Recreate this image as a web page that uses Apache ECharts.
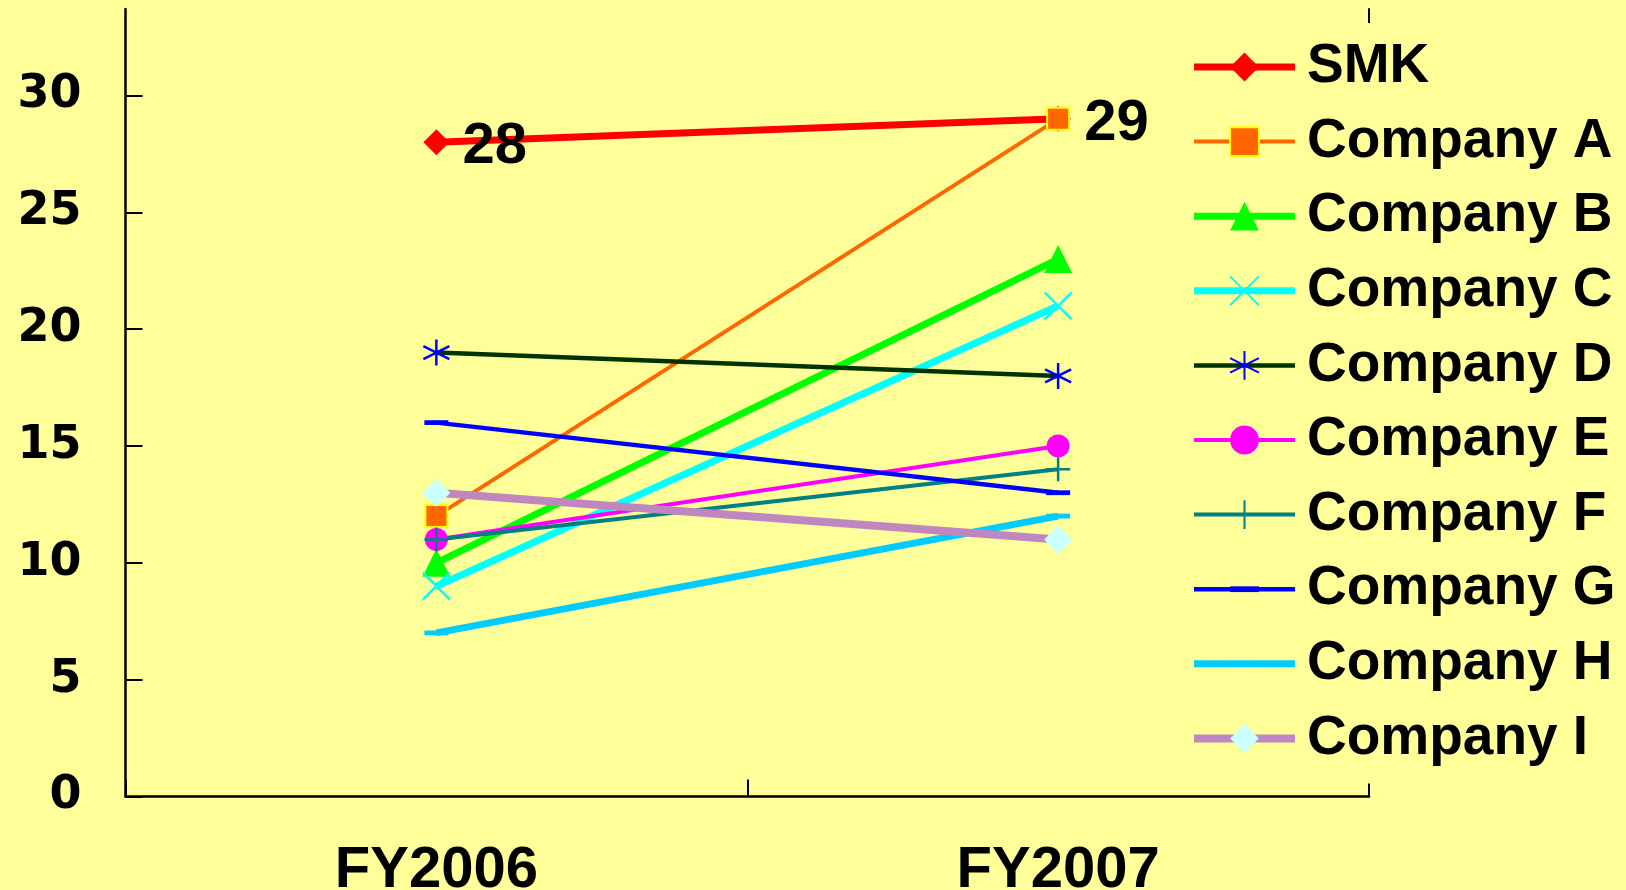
<!DOCTYPE html>
<html>
<head>
<meta charset="utf-8">
<script src="https://cdn.jsdelivr.net/npm/echarts@6/dist/echarts.min.js"></script>
<style>
html,body{margin:0;padding:0;background:#FFFF99;}
#chart{width:1626px;height:890px;}
</style>
</head>
<body>
<div id="chart"></div>
<script>
const categories = ['FY2006', 'FY2007'];
const seriesNames = ['SMK', 'Company A', 'Company B', 'Company C', 'Company D', 'Company E', 'Company F', 'Company G', 'Company H', 'Company I'];
const smk = [28, 29];
const companyA = [12, 29];
const companyB = [10, 23];
const companyC = [9, 21];
const companyD = [19, 18];
const companyE = [11, 15];
const companyF = [11, 14];
const companyG = [16, 13];
const companyH = [7, 12];
const companyI = [13, 11];
const yTickValues = [0, 5, 10, 15, 20, 25, 30];

const seriesValues = [smk, companyA, companyB, companyC, companyD, companyE, companyF, companyG, companyH, companyI];

const X_PATH = 'path://M0,0L10,10M10,0L0,10';
const STAR_PATH = 'path://M5,0L5,10M0.7,2.5L9.3,7.5M0.7,7.5L9.3,2.5';
const PLUS_PATH = 'path://M5,0L5,10M0,5L10,5';
const DASH_PATH = 'path://M0,0M0,4L10,4L10,6L0,6ZM10,10';

const styles = [
  {line: '#FF0000', lw: 7, symbol: 'diamond', size: 26, fill: '#FF0000'},
  {line: '#FF6600', lw: 4, symbol: 'rect', size: 22, fill: '#FF6600', border: '#FFFF00', bw: 2},
  {line: '#00FF00', lw: 7, symbol: 'triangle', size: 28, fill: '#00FF00'},
  {line: '#00FFFF', lw: 7, symbol: X_PATH, size: 27, fill: '#00FFFF', border: '#00FFFF', bw: 2.5},
  {line: '#003300', lw: 4.5, symbol: STAR_PATH, size: 26, fill: '#0000FF', border: '#0000FF', bw: 2.5},
  {line: '#FF00FF', lw: 4, symbol: 'circle', size: 23, fill: '#FF00FF'},
  {line: '#008080', lw: 4, symbol: PLUS_PATH, size: 24, fill: '#008080', border: '#008080', bw: 2.5},
  {line: '#0000FF', lw: 4.5, symbol: DASH_PATH, size: 24, fill: '#0000FF'},
  {line: '#00CCFF', lw: 7, symbol: DASH_PATH, size: 24, fill: '#00CCFF'},
  {line: '#C086C0', lw: 8, symbol: 'diamond', size: 28, fill: '#CCFFFF'}
];

const series = seriesNames.map((name, i) => {
  const s = styles[i];
  const obj = {
    name: name,
    type: 'line',
    data: seriesValues[i],
    symbol: s.symbol,
    symbolSize: s.size,
    showAllSymbol: true,
    lineStyle: {color: s.line, width: s.lw},
    itemStyle: {color: s.fill, borderColor: s.border || s.fill, borderWidth: s.bw || 0, opacity: 1},
    emphasis: {disabled: true},
    animation: false
  };
  if (i === 0) {
    obj.label = {
      show: true,
      position: 'right',
      distance: 13,
      offset: [0, 5],
      color: '#000000',
      fontFamily: 'Liberation Sans, Arial, sans-serif',
      fontWeight: 'bold',
      fontSize: 58
    };
  }
  return obj;
});

const legendData = seriesNames.map((name, i) => ({
  name: name,
  lineStyle: {width: styles[i].lw, color: styles[i].line}
}));

const chart = echarts.init(document.getElementById('chart'));
chart.setOption({
  backgroundColor: '#FFFF99',
  animation: false,
  grid: {left: 125.5, right: 257, top: 9, bottom: 93.5, containLabel: false, outerBoundsMode: 'none'},
  legend: {
    data: legendData,
    orient: 'vertical',
    left: 1180,
    top: 23,
    padding: [16, 10, 17, 10],
    backgroundColor: '#FFFF99',
    itemWidth: 101,
    itemHeight: 36,
    itemGap: 18.6,
    z: 10,
    textStyle: {
      color: '#000000',
      fontFamily: 'Liberation Sans, Arial, sans-serif',
      fontWeight: 'bold',
      fontSize: 55,
      lineHeight: 56,
      padding: [0, 0, 0, 7]
    }
  },
  xAxis: {
    type: 'category',
    data: categories,
    boundaryGap: true,
    axisLine: {lineStyle: {color: '#000000', width: 2.5}},
    axisTick: {show: true, inside: true, length: 17, lineStyle: {color: '#000000', width: 2}},
    axisLabel: {
      color: '#000000',
      fontFamily: 'Liberation Sans, Arial, sans-serif',
      fontWeight: 'bold',
      fontSize: 58,
      margin: 45
    },
    splitLine: {show: false}
  },
  yAxis: [{
    type: 'value',
    min: 0,
    max: 33.7,
    interval: 5,
    axisLine: {show: true, lineStyle: {color: '#000000', width: 2.5}},
    axisTick: {show: true, inside: true, length: 17, lineStyle: {color: '#000000', width: 2}, customValues: yTickValues},
    axisLabel: {
      color: '#000000',
      fontFamily: 'DejaVu Sans, sans-serif',
      fontWeight: 'bold',
      fontSize: 46,
      margin: 44,
      customValues: yTickValues
    },
    splitLine: {show: false}
  }, {
    type: 'value',
    position: 'right',
    min: 0,
    max: 33.7,
    axisLine: {show: true, onZero: false, lineStyle: {color: '#000000', width: 2}},
    axisTick: {show: false},
    axisLabel: {show: false},
    splitLine: {show: false}
  }],
  series: series
});
</script>
</body>
</html>
